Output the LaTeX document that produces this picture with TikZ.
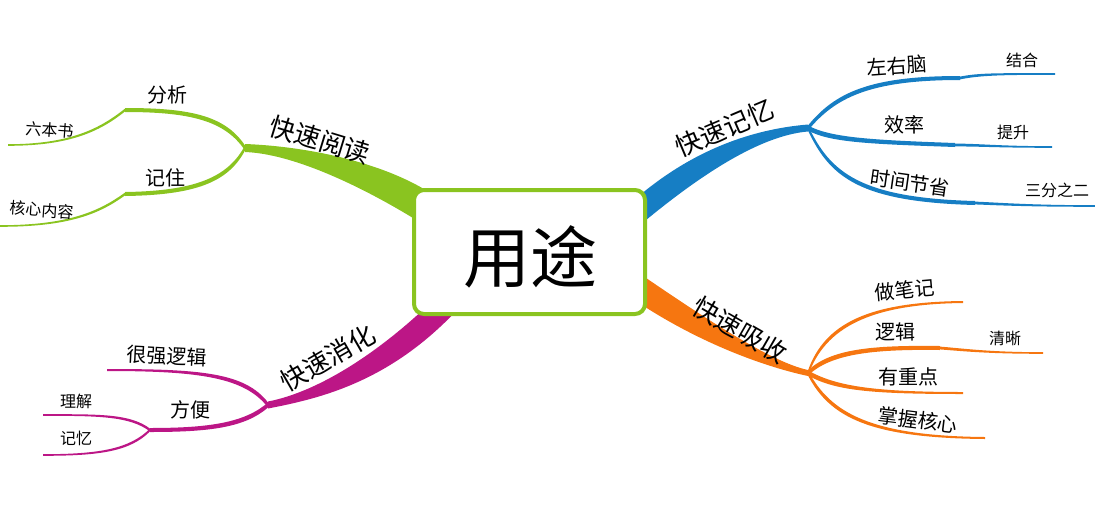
\documentclass[tikz,border=0pt]{standalone}
\usepackage{fontspec}
\setmainfont{Noto Sans CJK SC}
\usetikzlibrary{calc}

\definecolor{mmgreen}{RGB}{138,196,32}
\definecolor{mmblue}{RGB}{22,126,196}
\definecolor{mmpink}{RGB}{188,22,134}
\definecolor{mmorange}{RGB}{246,118,16}

% tapered branch: colour, from, control 1, control 2, to, half width at start, half width at end
\newcommand{\branch}[7]{%
  \fill[#1] ($(#2)+(0,#6)$) .. controls ($(#3)+(0,#6)$) and ($(#4)+(0,#7)$) .. ($(#5)+(0,#7)$)
    -- ($(#5)-(0,#7)$) .. controls ($(#4)-(0,#7)$) and ($(#3)-(0,#6)$) .. ($(#2)-(0,#6)$) -- cycle;}

\tikzset{
  topic/.style={font=\fontsize{26}{26}\selectfont, inner sep=0pt},
  sub/.style={font=\fontsize{20}{20}\selectfont, inner sep=0pt},
  leaf/.style={font=\fontsize{16}{16}\selectfont, inner sep=0pt},
}

\begin{document}
\begin{tikzpicture}[x=1pt,y=-1pt]
\useasboundingbox (0,0) rectangle (1095,515);

% junctions and ends
\coordinate (g0) at (432,212);
\coordinate (gj) at (245,148);
\coordinate (gfx) at (125,110);
\coordinate (gjz) at (125,194);
\coordinate (b0) at (640,210);
\coordinate (bj) at (808,128);
\coordinate (bzy) at (960,78);
\coordinate (bxl) at (955,145);
\coordinate (bsj) at (975,203);
\coordinate (p0) at (458,292);
\coordinate (pj) at (268,405);
\coordinate (pfb) at (150,430);
\coordinate (o0) at (630,282);
\coordinate (oj) at (808,373);
\coordinate (olj) at (940,348);

% green: kuai su yue du
\branch{mmgreen}{gj}{300,150}{380,178}{g0}{4}{18}
\branch{mmgreen}{gj}{225,118}{190,110}{gfx}{2.5}{2}
\branch{mmgreen}{gfx}{100,130}{70,145}{8,145}{1.4}{0.8}
\branch{mmgreen}{gj}{228,180}{195,193}{gjz}{2.5}{2}
\branch{mmgreen}{gjz}{100,212}{70,226}{0,226}{1.4}{0.8}

% blue: kuai su ji yi
\branch{mmblue}{bj}{760,132}{700,160}{b0}{3.5}{15}
\branch{mmblue}{bj}{835,95}{870,78}{bzy}{2.5}{2}
\branch{mmblue}{bzy}{980,74}{1000,74}{1055,74}{1.4}{0.8}
\branch{mmblue}{bj}{830,140}{870,142}{bxl}{2.5}{2}
\branch{mmblue}{bxl}{980,145}{1000,147}{1052,147}{1.4}{0.8}
\branch{mmblue}{bj}{830,175}{860,200}{bsj}{2.5}{2}
\branch{mmblue}{bsj}{1000,204}{1030,206}{1095,206}{1.4}{0.8}

% pink: kuai su xiao hua
\branch{mmpink}{pj}{320,395}{390,365}{p0}{3.5}{17}
\branch{mmpink}{pj}{245,375}{200,370}{107,370}{2.5}{1}
\branch{mmpink}{pj}{245,425}{210,430}{pfb}{2.5}{2}
\branch{mmpink}{pfb}{130,415}{100,415}{43,415}{1.4}{0.8}
\branch{mmpink}{pfb}{130,450}{100,455}{43,455}{1.4}{0.8}

% orange: kuai su xi shou
\branch{mmorange}{oj}{770,365}{700,330}{o0}{3}{15}
\branch{mmorange}{oj}{825,325}{870,303}{963,302}{2.5}{1}
\branch{mmorange}{oj}{830,352}{870,347}{olj}{2.5}{2}
\branch{mmorange}{olj}{965,350}{990,353}{1043,353}{1.4}{0.8}
\branch{mmorange}{oj}{835,388}{870,393}{963,393}{2.5}{1}
\branch{mmorange}{oj}{830,415}{870,437}{985,438}{2.5}{1}

% centre
\node[draw=mmgreen, line width=4pt, rounded corners=10pt, fill=white,
  minimum width=231pt, minimum height=124pt, inner sep=0pt] (center) at (529.5,252) {};
\node[font=\fontsize{67}{67}\selectfont, inner sep=0pt] (yongtu) at (530,257) {用途};

% labels
\node[topic, rotate=-17] (yuedu) at (320,140) {快速阅读};
\node[sub] (fenxi) at (167,95) {分析};
\node[leaf, rotate=-4] (liubenshu) at (50,130) {六本书};
\node[sub] (jizhu) at (165,178) {记住};
\node[leaf, rotate=-4] (hexin) at (42,210) {核心内容};

\node[topic, rotate=23] (jiyi) at (725,128) {快速记忆};
\node[sub, rotate=4] (zuoyounao) at (897,66) {左右脑};
\node[leaf] (jiehe) at (1022,60) {结合};
\node[sub] (xiaolv) at (904,125) {效率};
\node[leaf] (tisheng) at (1013,132) {提升};
\node[sub, rotate=-8] (shijian) at (910,183) {时间节省};
\node[leaf] (sanfen) at (1057,190) {三分之二};

\node[topic, rotate=30] (xiaohua) at (328,358) {快速消化};
\node[sub, rotate=-3] (luoji1) at (167,356) {很强逻辑};
\node[sub] (fangbian) at (190,410) {方便};
\node[leaf] (lijie) at (76,401) {理解};
\node[leaf] (jiyi2) at (76,438) {记忆};

\node[topic, rotate=-30] (xishou) at (740,330) {快速吸收};
\node[sub, rotate=5] (biji) at (905,290) {做笔记};
\node[sub] (luoji2) at (895,332) {逻辑};
\node[leaf] (qingxi) at (1005,338) {清晰};
\node[sub] (zhongdian) at (908,377) {有重点};
\node[sub, rotate=-7] (zhangwo) at (918,420) {掌握核心};
\end{tikzpicture}
\end{document}
